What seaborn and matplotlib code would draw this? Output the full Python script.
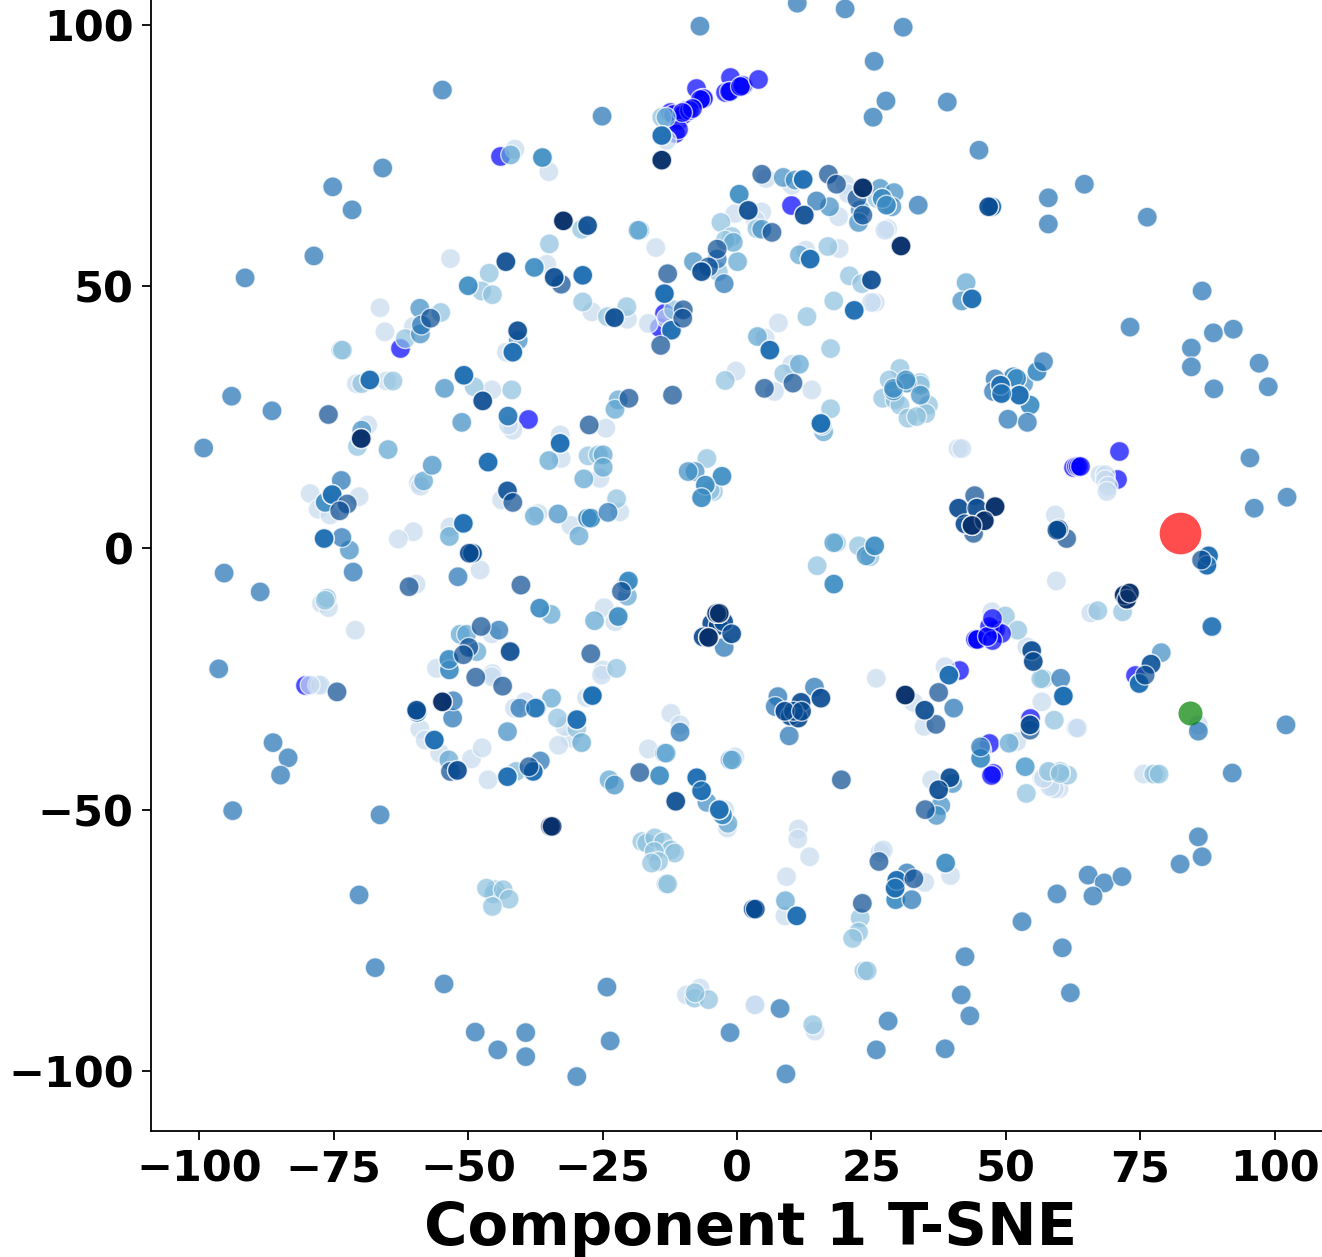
import numpy as np
import pandas as pd
import matplotlib
matplotlib.use("Agg")
import matplotlib.pyplot as plt
import seaborn as sns

pale = [(-13.1,77.9),(-41.3,76.2),(-35,71.9),(-53.3,55.3),(-35.4,54.2),(-66.4,45.9),(-65.5,41.3),(-60.2,42.3),
(-27,45.1),(-20.4,43.7),(-16.5,42.9),(-13.1,43.9),(-42.9,37.4),(-70.8,31.4),(-65.2,31.9),(-45.6,30.2),
(5.4,70.6),(10.2,69.3),(20.1,69.5),(20.7,67.7),(18.9,63.3),(28,61),(27.5,60.7),(-0.4,63.9),(4.6,64.2),(3.4,62.6),
(12.8,56.9),(19,57.2),(25.7,46.9),(25,46.9),(7.7,43),(5.2,40.1),(10.2,35.1),(-0.2,33.8),(13.9,30.2),(-15.1,57.4),
(6.95,29.9),(41.1,19),(41.8,19),(59.2,6.3),(59.4,-6.3),(47.4,-12.2),(53.9,-18.9),(38.7,-22.7),(25.9,-24.9),(56.7,-29.4),
(32.8,-29.5),(34.8,-34.1),(63,-34.4),(63.3,-34.4),(45.5,-38.6),(52,-37),(56.7,-44),(59.9,-46),(59,-46),(58.2,-45.6),
(36.2,-44.3),(11.4,-53.7),(11.3,-55.6),(13.5,-59),(9.2,-62.8),(8.9,-70.3),(26.6,-58.1),(27.2,-57.7),(39.7,-62.6),(34.9,-63.9),
(-41.7,22.5),(-42.5,23.5),(-68.7,23.5),(-24.4,22.9),(-32.9,21.6),(-32.7,17.1),(-25.5,13.3),(-59.3,12.4),(-58.9,11.8),
(-79.4,10.4),(-70.3,9.8),(-77.9,7.4),(-75.7,6.3),(-43.8,9.2),(-37,6.6),(-30.9,4.3),(-21.8,6.9),(-53.4,4),(-60.2,3.1),(-63,1.7),
(-59.7,-6.9),(-47.8,-4.2),(-24.7,-11.4),(-22.7,-14.1),(-77.3,-10.6),(-76,-11.4),(-71,-15.7),(-45.6,-16.4),(-55.9,-23),(-45.5,-24),
(-24.9,-23.3),(-25.2,-24.3),(-28,-28.6),(-39.4,-29.4),(-78,-26.2),(-77.5,-26.2),(-79.4,-26.2),(-59,-34.6),(-58,-36.7),(-55.3,-39.2),
(-49.4,-40.3),(-47.4,-38.2),(-46.3,-44.3),(-41.4,-30.6),(-31,-36.3),(-33.2,-37.7),(-32,-34.1),(-41.1,-42.7),(-12.3,-31.6),(-10.6,-33.8),
(-16.5,-38.4),(-1.8,-53.5),(-2.3,-50),(-0.4,-39.9),(3.5,-87.3),(3.3,-87.3),(14.5,-92.3),(67.5,14),(68.5,14),(68.5,13),(69,11.8),(68.8,10.8),
(65.8,-12.4),(75.6,-43.2),(85.8,-33.8),(57,-44),(58.2,-42.7),(-6.9,-84.1),(-9.4,-85.4),(-45.6,-24.6)]

light = [(-14,82.3),(-46.1,52.5),(-47.5,49.1),(-45.5,48.4),(-55.1,45),(-61.7,40),(-28.7,47),(-24.1,44.2),(-20.5,46.1),(-73.7,37.8),(-73.4,37.8),
(-69.8,31.4),(-64,31.9),(-48.9,30.8),(-41.9,30.2),(-28.9,60.9),(-34.9,58.1),(-11.8,45.5),(-3,62.2),(3.7,61),(-1,59.5),(-2.2,58.8),(-3.5,52.8),
(16.9,57.6),(20.9,52),(23.2,50.5),(18,47.2),(13,44.2),(8.7,33.3),(-2.2,32),(26,66.8),(30.3,34.3),(28.3,32.1),(34.1,31.6),(27.1,28.6),
(29.4,28.3),(30.3,27.3),(34.1,31.1),(35.6,27.3),(35.1,25.7),(31.8,24.8),(33.4,25.1),(17.4,38.1),(17.4,26.6),(-5.6,17.1),(-4.4,10.8),(-5,11),
(18,1),(18.5,1),(22.6,0.4),(24.7,-1.7),(14.9,-3.4),(49.9,-13),(52.2,-15.7),(57,-25),(56.5,-25),(59,-32.9),(61.5,-43.4),(60.1,-42.7),(57.9,-42.7),
(53.8,-46.9),(22.9,-70.7),(22.6,-73.4),(21.5,-74.6),(-70.6,19.4),(-27.7,17.6),(-25.8,17.8),(-22.4,9.4),(-76.3,-9.6),(-76.6,-10),(-22.4,-23),
(-33.4,-32.5),(-17.7,-56.1),(-16.8,-56.4),(-15.3,-55.4),(-13.7,-56.2),(-12.3,-57.7),(-11.6,-58.3),(-15.4,-58),(-14.6,-59.9),(-15.9,-60.2),
(-13.2,-64.2),(-12.9,-64.2),(-45,-65.3),(-45.3,-66.1),(-46.6,-65),(-43.5,-65.3),(-42.4,-67.1),(-45.5,-68.5),(-7.9,-86),(-5.3,-86.3),(-7.8,-85),
(23.6,-80.8),(24.2,-80.8),(14.1,-91.1),(71.7,-12.2),(67.1,-12),(77.9,-43.2),(77.5,-43.2),(78.5,-43.2),(60.1,-43.1),(-41.1,-42.7),(-29.8,-34.5)]

sky = [(-13.2,82.3),(-42.1,75.1),(-18.1,60.7),(-18.4,60.7),(-58.3,12.8),(0.1,54.7),(-0.7,58.4),(11.6,56),(11.6,35.1),(3.8,40.4),(42.6,50.7),
(16.1,22.2),(50.6,-37.3),(53.6,-41.8),(9,-67.4),(-64.9,18.8),(-22.1,28.3),(-22.7,26.5),(-35,16.7),(-24.9,17.8),(-24.9,15.4),(-28.5,13.2),
(-37.7,6.1),(-29.4,2.3),(-53.5,2.2),(-20.4,-9.2),(-34.6,-12.7),(-26.5,-13.9),(-51.5,-16.5),(-50.3,-16.5),(-48.4,-19.8),(-34.5,-28.7),(-53.6,-40.5),
(-28.9,-37.2),(-13.5,-39.2),(-13.2,-39.2),(-23.8,-44.3),(-1.7,-52.6),(-1.3,-40.5),(-0.9,-40.5),(53.6,-41.8),(18,1)]

mid = [(-59,45.8),(-58.9,40.9),(-54.4,30.5),(-51.2,24),(-40.7,39.7),(-8.1,54.7),(8.6,70.8),(10.8,70.3),(26.6,68.7),(29.2,67.9),(28.8,65.2),(17.2,65.2),
(22.9,64.6),(22.6,62.2),(4.6,60.9),(41.8,47.2),(29.1,30),(31.6,31.5),(34.1,29.2),(29.1,30.5),(31.4,32.1),(51.4,31.4),(53.3,31.4),(-7.8,14.6),
(24,-1.5),(37.9,-49.2),(37.1,-51.1),(40.1,-45),(78.9,-20),(-9.1,14.6),(-33.3,6.5),(-72.1,-0.4),(-20.5,-6.6),(-37.4,-30.5),(-37.3,-30.6),(-42.7,-35.1),(-22.8,-45.3),
(-56.7,15.8),(-42.6,25.2),(-69.8,22.5),(-5.6,-48.6)]

middk = [(-37.7,53.6),(-36.2,74.6),(-50,50.1),(0.4,67.6),(27,66.8),(27.8,65.5),(-76.6,8.7),(51.4,32.7),(52,32.4),(55.8,33.7),(15.8,23.5),(54.5,27.3),(-2.8,13.7),
(-5.9,12),(-6.6,9.6),(18,-6.9),(25.6,0.4),(45.3,-40.2),(38.8,-60.2),(-20.2,-6.3),(-36.7,-11.5),(-22.1,-13.1),(-53.5,-23.3),(-53.6,-21.3),(29.5,-67.2),
(60.7,-28.3),(-27.8,5.7),(-27.2,5.7),(-2.7,-51),(-14.4,-43.5)]

steel = [(-54.8,87.5),(-25.1,82.5),(-6.9,99.7),(11.2,104.1),(20.1,103),(30.9,99.5),(25.5,93),(27.7,85.4),(25.3,82.3),(39.1,85.2),(45,76),(33.7,65.5),
(57.9,66.9),(57.9,61.9),(64.6,69.5),(76.3,63.2),(73.1,42.2),(86.5,49.1),(88.6,41.1),(92.3,41.8),(84.5,38.2),(84.5,34.6),(88.7,30.4),(97.1,35.3),
(98.8,30.8),(95.4,17.2),(96.2,7.6),(102.3,9.7),(88.4,-15.1),(102.1,-33.8),(92.1,-43),(85.8,-55.2),(86.5,-59),(82.4,-60.4),(65.3,-62.5),(68.3,-64),
(71.6,-62.8),(66.2,-66.5),(59.5,-66.1),(53,-71.4),(60.5,-76.4),(62,-85),(42.4,-78.1),(41.7,-85.4),(43.3,-89.4),(38.7,-95.7),(28.1,-90.4),(25.9,-95.9),
(9.1,-100.5),(8,-88),(-1.3,-92.6),(-24.2,-83.9),(-23.6,-94.2),(-29.8,-101),(-39.3,-92.6),(-39.3,-97.2),(-44.5,-95.9),(-48.7,-92.5),(-54.5,-83.3),
(-67.3,-80.2),(-70.3,-66.3),(-66.4,-51),(-71.4,-4.6),(-99.2,19.1),(-95.4,-4.8),(-96.4,-23.1),(-88.7,-8.4),(-93.8,-50.2),(-91.5,51.6),(-94,29),(-86.5,26.2),
(-86.3,-37.2),(-83.5,-40.1),(-84.9,-43.4),(-78.7,55.8),(-75.2,69),(-71.6,64.6),(-65.9,72.6),(-42.6,25.2),(-58.7,42.6),(14.8,66.3),(-3.7,55.2),(48,32.3),
(50.4,24.6),(54,24),(57,35.6),(47.7,29.9),(60.2,-24.9),(40.3,-30.6),(14.4,-26.6),(7.6,-28.4),(7.1,-30.3),(9.7,-35.9),(31.6,-62.1),(32.5,-67.2),(-73.5,2),
(-24,6.8),(-51.9,-5.5),(-44.3,-15.7),(-73.6,12.9),(-52.9,-32.5),(-36.6,-40.7),(-10.6,-35.2),(-2.4,-19),(45.3,-38),(-52.8,-29.2),(-40.4,-30.6),(-42.7,10.9),
(77,-22.2),(85.8,-35),(88.3,-15),(-2.4,50.5),(-13.5,48.6),(-37.5,-30.6)]

strong = [(-14,78.8),(-28.7,52.1),(-41.7,37.4),(-68.3,32.1),(-12.2,41.6),(12.3,70.4),(6.1,37.8),(21.8,45.4),(43.7,47.6),(49,31.1),(52.5,29.2),(49.2,29.5),
(13.6,55.2),(-50.8,33),(15.6,23.8),(39.4,-24.3),(60.7,-28.3),(29.7,-63.5),(29.4,-65),(11.1,-70.3),(-46.3,16.4),(-32.9,20),(-76.8,1.8),(-50.9,4.7),(-26.9,-28.3),
(-59.5,-31.4),(-56.3,-36.7),(-42.7,-43.7),(-37.9,-42.7),(-29.8,-32.8),(-7.5,-43.9),(-6.6,-46.4),(-3.3,-50),(-75.3,10.2),(-26.9,-28.2),(87.7,-1.5),(87.4,-3.3),
(74.8,-25.9),(-13.5,48.6),(47.4,65.2)]

deep = [(-32.7,50.4),(-12.9,52.4),(-14.2,38.7),(-57,43.9),(-10,45.5),(-10.1,43.9),(4.6,71.4),(17,71.4),(18.5,69.5),(22.3,66.8),(23.4,63.6),(6.5,60.3),(-3.7,57.1),
(-5.3,53.7),(10.4,31.5),(5.1,30.5),(44.2,10),(44,2.8),(61.3,1.8),(37.5,-27.6),(37,-33.7),(35,-50),(32.9,-63.2),(26.4,-59.9),(23.3,-67.9),(19.4,-44.3),(-76,25.5),(-20.1,28.6),
(-12,29.2),(-27.5,23.5),(-72.5,8.4),(-73.9,7.1),(-42.7,10.9),(-41.7,8.7),(-61,-7.4),(-40.2,-7.1),(-21.5,-8.3),(-47.6,-15),(-49.9,-19),(-50.9,-20.4),(-27.2,-20.2),
(-48.6,-24.7),(-43.6,-26.4),(-74.4,-27.5),(-53.3,-42.7),(-38.7,-41.8),(-18.1,-42.9),(77,-22.2),(75.9,-24.3),(86.4,-2.3),(54.5,-34.8)]

dark = [(-43,54.7),(-34,51.7),(-27.8,61.6),(-22.8,44),(-40.8,41.5),(2.1,64.5),(12.5,63.6),(-6.6,52.8),(25,51.2),(46.8,65.2),(41.2,7.6),(44.6,7.6),(42.4,4.6),(59.8,3.6),
(59.5,3.4),(-4.7,-14.4),(-3.5,-14.8),(-2.5,-14.1),(-1,-16.4),(-6.3,-17),(54.8,-19.6),(55.1,-21.7),(11.9,-29.5),(15.6,-28.7),(9.9,-32.1),(11.4,-32.5),(10.5,-31.2),
(8.9,-31.2),(12,-31.2),(34.9,-31),(39.6,-43.9),(37.5,-46.2),(-47.3,28.1),(-49.2,-1),(-49.8,-1),(-42.2,-19.8),(-52,-42.5),(-59.6,-31),(-11.4,-48.4),(3,-69),(3.4,-69),(54.5,-33.8)]

navy = [(-14,74.1),(-32.3,62.5),(23.4,68.8),(30.5,57.7),(48,7.9),(46,5.2),(43.7,4.3),(-3.8,-12.5),(-3.3,-12.5),(-5.3,-17.1),(31.3,-28.1),(72,-9),(72.5,-9.8),(73,-8.6),
(-69.9,20.9),(-54.8,-29.4),(-34.7,-53.2),(-34.4,-53.2)]

blue_under = [(-12.5,83.3),(-9.4,83.7),(-10.9,81.8),(-11.5,79.2),(-12,83),(-10,83),(-11,80),(-44,74.8),(-62.6,38.3),(-14.6,42.3),(-13.6,44.9),(-7.7,87.8),(-6.6,86),(-6.3,86),
(-6.8,85.7),(-8.9,83.7),(-8.3,84),(-10.3,83.3),(-1.4,90),(-2.3,87.2),(-1.3,87.4),(-1.5,87.3),(1.2,88.4),(0.9,88.4),(0.6,88.2),(3.9,89.6),(10,65.6),(-38.9,24.7),(-80.4,-26.2),
(71.1,18.5),(62.5,15.5),(63.1,15.6),(63.4,15.6),(63.7,15.6),(70.6,13.1),(41.2,-23.3),(74,-24.3),(46.8,-37.3),(47.7,-43),(47.3,-43.3),(54.5,-32.5)]

blue_over = [(47.4,-15.3),(47.9,-15.5),(46.8,-15),(49.1,-16.3),(44.5,-17.4),(44.2,-17.4),(44.7,-17.4),(47.4,-17.6),(46.5,-16.8),(47.4,-13.4)]

target_red = [(82.4, 2.9)]
target_green = [(84.2, -31.5)]

shades = [0.25, 0.42, 0.55, 0.65, 0.65, 0.75, 0.75, 0.9, 0.9, 1.0]
repeats = [1, 1, 1, 1, 2, 1, 3, 1, 2, 3]
groups = [pale, light, sky, mid, middk, steel, strong, deep, dark, navy]

rows = []
for pts, sh, rp in zip(groups, shades, repeats):
    for _ in range(rp):
        for px, py in pts:
            rows.append((px, py, sh))
df = pd.DataFrame(rows, columns=["x", "y", "shade"])

plt.rcParams["font.family"] = "DejaVu Sans"
fig = plt.figure(figsize=(13.22, 12.57), dpi=100)
ax = fig.add_axes([151/1322, 1-1131/1257, 1171/1322, 1131/1257])

def pts_df(p):
    return pd.DataFrame(p, columns=["x", "y"])

sz = 205
kw = dict(alpha=0.7, edgecolor="white", linewidth=1, legend=False, ax=ax)
sns.scatterplot(data=pts_df(blue_under), x="x", y="y", color="blue", s=sz, **kw)
sns.scatterplot(data=df, x="x", y="y", hue="shade", palette="Blues", hue_norm=(0, 1), s=sz, **kw)
sns.scatterplot(data=pts_df(blue_over), x="x", y="y", color="blue", s=sz, **kw)
sns.scatterplot(data=pts_df(target_red), x="x", y="y", color="red", s=900, alpha=0.7, linewidth=0, legend=False, ax=ax)
sns.scatterplot(data=pts_df(target_green), x="x", y="y", color="green", s=300, alpha=0.7, linewidth=0, legend=False, ax=ax)

ax.set_xlim(-109.0, 108.8)
ax.set_ylim(-111.4, 104.7)
ax.set_xticks(range(-100, 101, 25))
ax.set_yticks(range(-100, 101, 50))
sns.despine(ax=ax)
for s in ["left", "bottom"]:
    ax.spines[s].set_linewidth(1.3)
ax.tick_params(axis="both", length=6.5, width=1.3, labelsize=31, pad=6)
for lab in ax.get_xticklabels() + ax.get_yticklabels():
    lab.set_fontweight("bold")
ax.set_ylabel("")
ax.set_xlabel("Component 1 T-SNE", fontsize=42.7, fontweight="bold", x=(751-151)/1171, labelpad=7)
fig.savefig("out.png", dpi=100)
